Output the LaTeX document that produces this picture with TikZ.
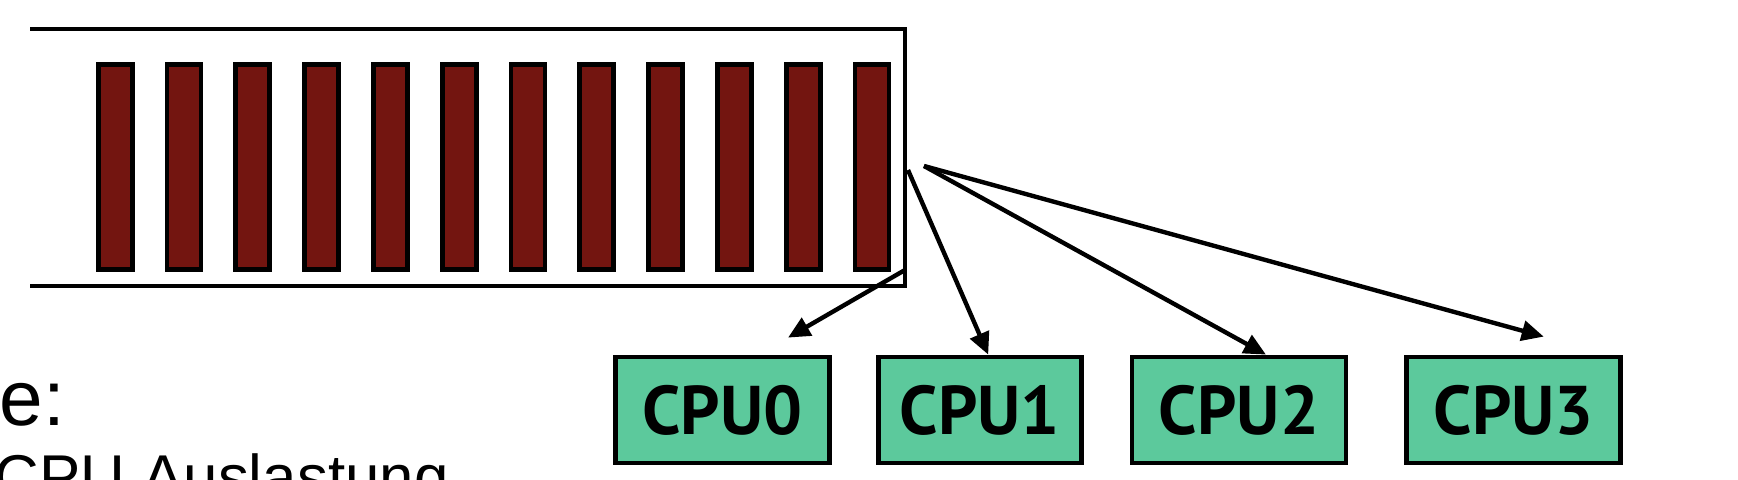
\documentclass[tikz,border=0pt]{standalone}
\usepackage{fontspec}
\setmainfont{Liberation Sans}
\newfontfamily\cpufont{PT Sans}
\usetikzlibrary{positioning}
\usetikzlibrary{calc}
\usetikzlibrary{arrows.meta}
\definecolor{slotred}{RGB}{115,21,16}
\definecolor{cpugreen}{RGB}{92,201,156}
\tikzset{
  border/.style         = { line width=1.35pt, draw=black },
  slot/.style           = { rectangle, border, fill=slotred, inner sep=0pt,
                            minimum width=3.4mm, minimum height=20.5mm },
  cpu/.style            = { rectangle, border, fill=cpugreen, inner sep=0pt,
                            minimum width=21.4mm, minimum height=10.6mm,
                            font=\cpufont\bfseries\fontsize{19.6}{22}\selectfont },
  slidetext/.style      = { anchor=base west, inner sep=0pt },
  dispatch/.style       = { line width=1.25pt, draw=black,
                            -{Triangle[length=2.2mm, width=2mm]} }
}

\begin{document}
\begin{tikzpicture}[x=0.1mm, y=-0.1mm]
  \useasboundingbox (0,0) rectangle (1738,480);
  \clip (0,0) rectangle (1738,480);

  % ready queue
  \node (queue) [minimum width=87.5mm, minimum height=25.7mm, inner sep=0pt, outer sep=0pt]
    at (467.5,157.5) {};
  \draw [border] (queue.north west) -- (queue.north east)
    -- (queue.south east) -- (queue.south west);
  \foreach \i in {0,...,11}
    \node (slot\i) [slot] at ({115.25+68.8*\i},166.7) {};

  % processors
  \node (cpu0) [cpu] at (722.5,410) {CPU0};
  \node (cpu1) [cpu, minimum width=20.3mm, right=4.4mm of cpu0] {CPU1};
  \node (cpu2) [cpu, right=4.6mm of cpu1] {CPU2};
  \node (cpu3) [cpu, right=5.6mm of cpu2] {CPU3};

  \coordinate (fan) at ([xshift=1.9mm, yshift=-0.85mm]queue.east);
  \draw [dispatch] ([yshift=1.6mm]queue.south east) -- ([xshift=6.55mm, yshift=1.7mm]cpu0.north);
  \draw [dispatch] ([xshift=0.3mm, yshift=-1.25mm]queue.east) -- ([xshift=0.85mm]cpu1.north);
  \draw [dispatch] (fan) -- ([xshift=2.7mm]cpu2.north);
  \draw [dispatch] (fan) -- ([xshift=3mm, yshift=1.8mm]cpu3.north);

  % cut-off slide text
  \node (heading) [slidetext, font=\fontsize{22.3}{26}\selectfont] at (-1,426) {e:};
  \node (usage) [slidetext, font=\fontsize{17.6}{21}\selectfont] at (-6,499) {CPU Auslastung};
\end{tikzpicture}
\end{document}
